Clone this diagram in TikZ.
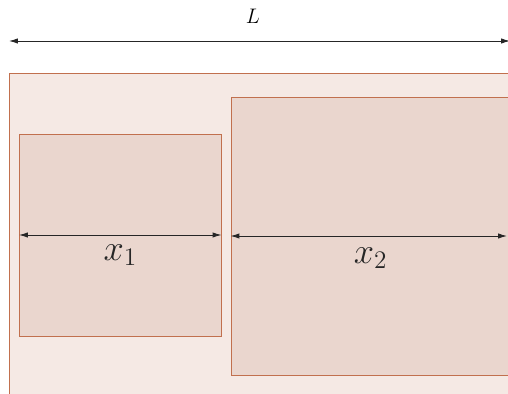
\documentclass[tikz,border=0pt]{standalone}
\usetikzlibrary{fit,arrows.meta}
\definecolor{wallfill}{RGB}{245,233,228}
\definecolor{boxfill}{RGB}{234,214,206}
\definecolor{boxline}{RGB}{193,112,78}
\tikzset{
  box/.style={draw=boxline,fill=boxfill,line width=0.55pt,inner sep=0pt},
  wall/.style={draw=boxline,fill=wallfill,line width=0.55pt,inner sep=0pt},
  dim/.style={black!85,line width=0.5pt,{Latex[length=5pt,width=3pt]}-{Latex[length=5pt,width=3pt]}}
}
\begin{document}
\begin{tikzpicture}[x=0.57pt,y=-0.57pt]
    \useasboundingbox (0,0) rectangle (508,394);

    \node [wall,fit={(9,73) (512,400)}](room){};
    \node [box,fit={(19.5,134) (221,336)}](left){};
    \node [box,fit={(231,97) (510,375)}](right){};

    \coordinate (la) at (9,41);
    \coordinate (lb) at (510,41);
    \draw [dim] (la) -- (lb);
    \node (lname) at (253,16){\large $L$};

    \draw [dim] (left.west) -- (left.east) node[midway,below=2pt]{\huge $x_1$};
    \draw [dim,shorten >=2pt] (right.west) -- (right.east) node[midway,below=3pt]{\huge $x_2$};
\end{tikzpicture}
\end{document}
